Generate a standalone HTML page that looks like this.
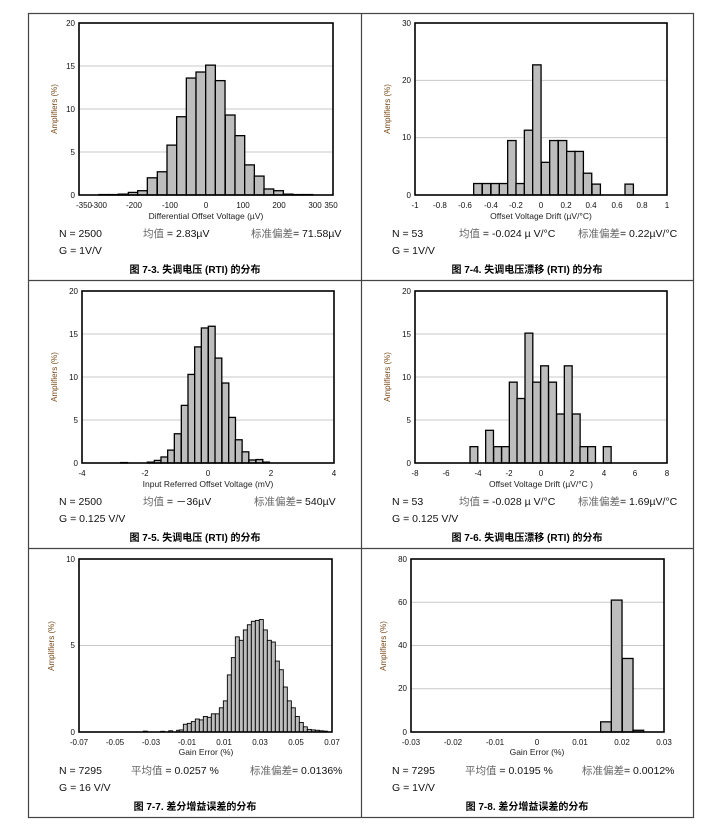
<!DOCTYPE html>
<html><head><meta charset="utf-8"><style>
body{margin:0;background:#fff;}
svg{display:block;font-family:"Liberation Sans","Noto Sans CJK SC",sans-serif;}
.t{font-size:8px;fill:#111;}
.at{font-size:8.5px;fill:#222;}
.yt{font-size:8px;fill:#7a4a1a;}
.s{font-size:10.5px;fill:#111;}
.c{font-size:10.5px;fill:#666;}
.cap{font-size:10px;font-weight:bold;fill:#000;}
</style></head><body>
<svg id="s" width="714" height="828" viewBox="0 0 714 828">
<g stroke="#444" stroke-width="1.2" fill="none">
<rect x="28.5" y="13.5" width="665" height="804"/>
<line x1="361.5" y1="13" x2="361.5" y2="818"/>
<line x1="28" y1="280.5" x2="694" y2="280.5"/>
<line x1="28" y1="548.5" x2="694" y2="548.5"/>
</g>
<g id="plots"></g>
<g class="t" text-anchor="end">
<text x="75" y="26">20</text><text x="75" y="69">15</text><text x="75" y="112">10</text><text x="75" y="155">5</text><text x="75" y="198">0</text>
<text x="411" y="26">30</text><text x="411" y="83">20</text><text x="411" y="140">10</text><text x="411" y="198">0</text>
<text x="78" y="294">20</text><text x="78" y="337">15</text><text x="78" y="380">10</text><text x="78" y="423">5</text><text x="78" y="466">0</text>
<text x="411" y="294">20</text><text x="411" y="337">15</text><text x="411" y="380">10</text><text x="411" y="423">5</text><text x="411" y="466">0</text>
<text x="75" y="562">10</text><text x="75" y="648">5</text><text x="75" y="735">0</text>
<text x="407" y="562">80</text><text x="407" y="605">60</text><text x="407" y="648">40</text><text x="407" y="691">20</text><text x="407" y="735">0</text>
</g>
<g class="t" text-anchor="middle">
<text x="84" y="208">-350</text><text x="99" y="208">-300</text><text x="134" y="208">-200</text><text x="170" y="208">-100</text><text x="206" y="208">0</text><text x="243" y="208">100</text><text x="279" y="208">200</text><text x="315" y="208">300</text><text x="331" y="208">350</text>
<text x="415" y="208">-1</text><text x="440" y="208">-0.8</text><text x="465" y="208">-0.6</text><text x="491" y="208">-0.4</text><text x="516" y="208">-0.2</text><text x="541" y="208">0</text><text x="566" y="208">0.2</text><text x="591" y="208">0.4</text><text x="617" y="208">0.6</text><text x="642" y="208">0.8</text><text x="667" y="208">1</text>
<text x="82" y="476">-4</text><text x="145" y="476">-2</text><text x="208" y="476">0</text><text x="271" y="476">2</text><text x="334" y="476">4</text>
<text x="415" y="476">-8</text><text x="446" y="476">-6</text><text x="478" y="476">-4</text><text x="509" y="476">-2</text><text x="541" y="476">0</text><text x="572" y="476">2</text><text x="604" y="476">4</text><text x="635" y="476">6</text><text x="667" y="476">8</text>
<text x="79" y="745">-0.07</text><text x="115" y="745">-0.05</text><text x="151" y="745">-0.03</text><text x="187" y="745">-0.01</text><text x="224" y="745">0.01</text><text x="260" y="745">0.03</text><text x="296" y="745">0.05</text><text x="332" y="745">0.07</text>
<text x="411" y="745">-0.03</text><text x="453" y="745">-0.02</text><text x="495" y="745">-0.01</text><text x="537" y="745">0</text><text x="580" y="745">0.01</text><text x="622" y="745">0.02</text><text x="664" y="745">0.03</text>
</g>
<g class="at" text-anchor="middle">
<text x="206" y="219">Differential Offset Voltage (µV)</text>
<text x="541" y="219">Offset Voltage Drift (µV/°C)</text>
<text x="208" y="487">Input Referred Offset Voltage (mV)</text>
<text x="541" y="487">Offset Voltage Drift (µV/°C )</text>
<text x="206" y="755">Gain Error (%)</text>
<text x="537" y="755">Gain Error (%)</text>
</g>
<g class="yt" text-anchor="middle">
<text transform="translate(57,109) rotate(-90)">Amplifiers (%)</text>
<text transform="translate(390,109) rotate(-90)">Amplifiers (%)</text>
<text transform="translate(57,377) rotate(-90)">Amplifiers (%)</text>
<text transform="translate(390,377) rotate(-90)">Amplifiers (%)</text>
<text transform="translate(54,646) rotate(-90)">Amplifiers (%)</text>
<text transform="translate(386,646) rotate(-90)">Amplifiers (%)</text>
</g>
<g>
<text class="s" x="59" y="237">N = 2500</text><text class="s" x="59" y="254">G = 1V/V</text>
<text class="s" x="143" y="237"><tspan class="c">均值</tspan> = 2.83µV</text>
<text class="s" x="251" y="237"><tspan class="c">标准偏差</tspan>= 71.58µV</text>
<text class="cap" x="195" y="273" text-anchor="middle">图 7-3. 失调电压 (RTI) 的分布</text>

<text class="s" x="392" y="237">N = 53</text><text class="s" x="392" y="254">G = 1V/V</text>
<text class="s" x="459" y="237"><tspan class="c">均值</tspan> = -0.024 µ V/°C</text>
<text class="s" x="578" y="237"><tspan class="c">标准偏差</tspan>= 0.22µV/°C</text>
<text class="cap" x="527" y="273" text-anchor="middle">图 7-4. 失调电压漂移 (RTI) 的分布</text>

<text class="s" x="59" y="505">N = 2500</text><text class="s" x="59" y="522">G = 0.125 V/V</text>
<text class="s" x="143" y="505"><tspan class="c">均值</tspan> = －36µV</text>
<text class="s" x="254" y="505"><tspan class="c">标准偏差</tspan>= 540µV</text>
<text class="cap" x="195" y="541" text-anchor="middle">图 7-5. 失调电压 (RTI) 的分布</text>

<text class="s" x="392" y="505">N = 53</text><text class="s" x="392" y="522">G = 0.125 V/V</text>
<text class="s" x="459" y="505"><tspan class="c">均值</tspan> = -0.028 µ V/°C</text>
<text class="s" x="578" y="505"><tspan class="c">标准偏差</tspan>= 1.69µV/°C</text>
<text class="cap" x="527" y="541" text-anchor="middle">图 7-6. 失调电压漂移 (RTI) 的分布</text>

<text class="s" x="59" y="774">N = 7295</text><text class="s" x="59" y="791">G = 16 V/V</text>
<text class="s" x="131" y="774"><tspan class="c">平均值</tspan> = 0.0257 %</text>
<text class="s" x="250" y="774"><tspan class="c">标准偏差</tspan>= 0.0136%</text>
<text class="cap" x="195" y="810" text-anchor="middle">图 7-7. 差分增益误差的分布</text>

<text class="s" x="392" y="774">N = 7295</text><text class="s" x="392" y="791">G = 1V/V</text>
<text class="s" x="465" y="774"><tspan class="c">平均值</tspan> = 0.0195 %</text>
<text class="s" x="582" y="774"><tspan class="c">标准偏差</tspan>= 0.0012%</text>
<text class="cap" x="527" y="810" text-anchor="middle">图 7-8. 差分增益误差的分布</text>
</g>
</svg>
<script>
var NS="http://www.w3.org/2000/svg",P=document.getElementById("plots");
function el(n,a){var e=document.createElementNS(NS,n);for(var k in a)e.setAttribute(k,a[k]);P.appendChild(e);return e;}
function chart(c){
 var h=c.b-c.t;
 c.grid.forEach(function(g){var y=c.b-g/c.ymax*h;el("line",{x1:c.l,x2:c.r,y1:y,y2:y,stroke:"#c8c8c8","stroke-width":1});});
 c.bars.forEach(function(b){var x=c.ox+b[0]/3,v=b[1],y=c.b-v/c.ymax*h;
  el("rect",{x:x,y:y,width:c.w,height:c.b-y,fill:"#bdbdbd",stroke:"#000","stroke-width":c.sw||1.3});});
 el("rect",{x:c.l,y:c.t,width:c.r-c.l,height:h,fill:"none",stroke:"#000","stroke-width":1.6});
}
chart({l:79,r:333,t:23,b:195,ymax:20,grid:[5,10,15],ox:30,w:9.7,bars:[[207,.05],[236,.05],[265,.1],[295,.3],[323,.5],[352,2],[382,2.7],[411,5.8],[440,9.1],[469,13.6],[498,14.3],[527,15.1],[556,13.3],[586,9.3],[615,6.9],[644,3.5],[673,2.2],[702,.7],[731,.5],[760,.1],[790,.05],[819,.05]]});
chart({l:415,r:667,t:23,b:195,ymax:30,grid:[10,20],ox:380,w:8.4,bars:[[281,2],[307,2],[333,2],[358,2],[383,9.5],[408,2],[433,11.3],[458,22.7],[484,5.7],[509,9.5],[535,9.5],[560,7.6],[585,7.6],[610,3.8],[636,1.9],[735,1.9]]});
chart({l:82,r:334,t:291,b:463,ymax:20,grid:[5,10,15],ox:40,w:6.8,bars:[[242,.05],[322,.1],[343,.3],[363,.7],[383,1.5],[403,3.4],[424,6.7],[444,10.3],[464,13.5],[484,15.7],[505,15.9],[525,12.2],[546,9.3],[566,5.3],[586,2.7],[606,1.3],[627,.35],[648,.4],[668,.1]]});
chart({l:415,r:667,t:291,b:463,ymax:20,grid:[5,10,15],ox:380,w:7.8,bars:[[270,1.9],[317,3.8],[341,1.9],[365,1.9],[388,9.4],[411,7.5],[435,15.1],[458,9.4],[482,11.3],[506,9.4],[530,5.7],[553,11.3],[577,5.7],[600,1.9],[623,1.9],[670,1.9]]});
var b5=[[340,.05],[392,.04],[416,.07],[440,.1],[448,.12]],h5=[.45,.5,.6,.75,.7,.9,.85,1.05,1.05,1.4,1.8,3.3,4.3,5.5,5.3,5.9,6.2,6.4,6.45,6.5,5.9,5.3,5.2,4.1,3.6,2.6,1.8,1.4,.9,.55,.3,.15,.12,.1,.07,.05];
h5.forEach(function(v,i){b5.push([460+i*12,v]);});
chart({l:79,r:332,t:559,b:732,ymax:10,grid:[5],ox:30,w:4,sw:.9,bars:b5});
chart({l:411,r:664,t:559,b:732,ymax:80,grid:[20,40,60],ox:380,w:10.7,bars:[[662,4.7],[694,61],[727,34],[759,.8]]});
</script>
</body></html>
